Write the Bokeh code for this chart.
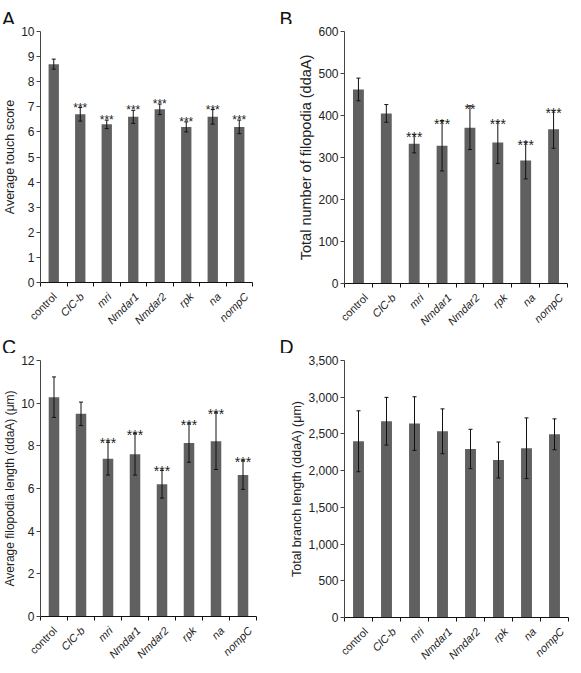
from bokeh.plotting import figure
from bokeh.models import Range1d, FixedTicker, NumeralTickFormatter, ColumnDataSource, Plot
from bokeh.layouts import column, row
from bokeh.embed import file_html
from bokeh.resources import INLINE
from bokeh.core.properties import value, field

# ---------------- data ----------------
categories = ["control", "ClC-b", "mri", "Nmdar1", "Nmdar2", "rpk", "na", "nompC"]

touch_mean = [8.7, 6.7, 6.3, 6.6, 6.9, 6.2, 6.6, 6.2]
touch_err = [0.2, 0.27, 0.17, 0.26, 0.21, 0.2, 0.29, 0.27]
touch_sig = ["", "***", "***", "***", "***", "***", "***", "***"]
touch_ticks = [0, 1, 2, 3, 4, 5, 6, 7, 8, 9, 10]

filo_mean = [462, 405, 333, 328, 371, 336, 293, 367]
filo_err = [27, 21, 22, 60, 52, 50, 44, 45]
filo_sig = ["", "", "***", "***", "**", "***", "***", "***"]
filo_ticks = [0, 100, 200, 300, 400, 500, 600]

len_mean = [10.28, 9.5, 7.4, 7.6, 6.2, 8.13, 8.22, 6.63]
len_err = [0.95, 0.55, 0.77, 0.97, 0.65, 0.9, 1.33, 0.67]
len_sig = ["", "", "***", "***", "***", "***", "***", "***"]
len_ticks = [0, 2, 4, 6, 8, 10, 12]

branch_mean = [2400, 2673, 2641, 2536, 2295, 2145, 2305, 2495]
branch_err = [415, 325, 365, 305, 268, 245, 413, 210]
branch_sig = ["", "", "", "", "", "", "", ""]
branch_ticks = [0, 500, 1000, 1500, 2000, 2500, 3000, 3500]

panel_letters = ["A", "B", "C", "D"]

FONT = "Liberation Sans"
BAR = "#606060"
INK = "#111111"
TXT = "#222222"
MB_TOP, MB_BOTTOM = 7, 7

HAS_FRAME_ALIGN = "frame_align" in Plot.properties()


def base_fig(**kw):
    if HAS_FRAME_ALIGN:
        kw["frame_align"] = False
    return figure(output_backend="svg", toolbar_location=None, **kw)


def blank(width, height, x_range, y_range):
    f = base_fig(width=width, height=height, x_range=x_range, y_range=y_range,
                 x_axis_location=None, y_axis_location=None, min_border=0)
    f.outline_line_color = None
    f.grid.visible = False
    return f


def header(letter, width, height, letter_x, baseline_from_top):
    h = blank(width, height, Range1d(0, width), Range1d(-height, 0))
    h.text(x=[letter_x], y=[-baseline_from_top], text=[letter], text_font=value(FONT),
           text_font_size="19.5px", text_color=INK, text_align="left",
           text_baseline="alphabetic")
    return h


def panel(means, errs, sig, ticks, ylabel, *, width, frame_h, mb_left, mb_right,
          label_size, star_size, star_drop, fmt=None):
    n = len(categories)
    top = ticks[-1]
    ppu = frame_h / top
    xs = [i + 0.5 for i in range(n)]
    src = ColumnDataSource(dict(
        x=xs, top=means,
        lo=[m - e for m, e in zip(means, errs)],
        hi=[m + e for m, e in zip(means, errs)],
        star_y=[m + e - star_drop / ppu for m, e in zip(means, errs)],
        sig=sig,
    ))
    p = base_fig(width=width, height=frame_h + MB_TOP + MB_BOTTOM,
                 x_range=Range1d(0, n), y_range=Range1d(ticks[0], top),
                 min_border_left=mb_left, min_border_right=mb_right,
                 min_border_top=MB_TOP, min_border_bottom=MB_BOTTOM)
    p.outline_line_color = None
    p.xgrid.visible = False
    p.ygrid.visible = False

    p.vbar(x="x", top="top", bottom=0, width=0.39, source=src, fill_color=BAR, line_color=None)
    p.segment(x0="x", y0="lo", x1="x", y1="hi", source=src, line_color=INK, line_width=1)
    p.scatter(x="x", y="hi", source=src, marker="dash", size=4, line_color=INK, line_width=1)
    p.scatter(x="x", y="lo", source=src, marker="dash", size=4, line_color=INK, line_width=1)
    p.text(x="x", y="star_y", text="sig", source=src, text_align="center",
           text_baseline="alphabetic", text_font=value(FONT),
           text_font_size=star_size, text_color=TXT)

    ya = p.yaxis[0]
    ya.ticker = FixedTicker(ticks=ticks)
    if fmt:
        ya.formatter = NumeralTickFormatter(format=fmt)
    ya.minor_tick_line_color = None
    ya.major_tick_in = 0
    ya.major_tick_out = 4
    ya.major_label_standoff = 2
    ya.axis_line_color = "#444444"
    ya.major_tick_line_color = "#444444"
    ya.major_label_text_font = FONT
    ya.major_label_text_font_size = "12px"
    ya.major_label_text_color = TXT
    ya.axis_label = ylabel
    ya.axis_label_text_font = FONT
    ya.axis_label_text_font_size = label_size
    ya.axis_label_text_font_style = "normal"
    ya.axis_label_text_color = TXT
    ya.axis_label_standoff = 1

    xa = p.xaxis[0]
    xa.ticker = FixedTicker(ticks=list(range(n + 1)))
    xa.minor_tick_line_color = None
    xa.major_tick_in = 0
    xa.major_tick_out = 4
    xa.axis_line_color = INK
    xa.major_tick_line_color = INK
    xa.major_label_text_font_size = "1px"
    xa.major_label_text_color = None
    xa.major_label_standoff = 0
    return p


def footer(width, height, mb_left, mb_right):
    # same category scale as the panel above, widened to the full figure width
    n = len(categories)
    ppx = (width - mb_left - mb_right) / n
    f = blank(width, height, Range1d(-mb_left / ppx, (width - mb_left) / ppx), Range1d(-height, 0))
    src = ColumnDataSource(dict(
        x=[i + 0.5 for i in range(n)], y=[-5] * n, text=categories,
        style=["normal" if c == "control" else "italic" for c in categories],
    ))
    f.text(x="x", y="y", text="text", source=src, angle=45, angle_units="deg",
           text_align="right", text_baseline="middle", x_offset=7.5,
           text_font=value(FONT), text_font_size="11px",
           text_font_style=field("style"), text_color=TXT)
    return f


A = dict(width=277, mb_left=33, mb_right=25)
B = dict(width=293, mb_left=67, mb_right=3)
C = dict(width=277, mb_left=33, mb_right=21)
D = dict(width=293, mb_left=67, mb_right=2)

pa = panel(touch_mean, touch_err, touch_sig, touch_ticks, "Average touch score",
           frame_h=251, label_size="12.5px", star_size="12px", star_drop=0, **A)
pb = panel(filo_mean, filo_err, filo_sig, filo_ticks, "Total number of filopodia (ddaA)",
           frame_h=252, label_size="14.5px", star_size="14px", star_drop=3, **B)
pc = panel(len_mean, len_err, len_sig, len_ticks, "Average filopodia length (ddaA) (\u03bcm)",
           frame_h=256, label_size="12px", star_size="14px", star_drop=1, **C)
pd_ = panel(branch_mean, branch_err, branch_sig, branch_ticks, "Total branch length (ddaA) (\u03bcm)",
            frame_h=257, label_size="12.5px", star_size="14px", star_drop=0, fmt="0,0", **D)

# row 1: 24 + 265/266 + 38/37 = 327 ; row 2: 26 + 270/271 + 40/39 = 336
col_a = column(header(panel_letters[0], A["width"], 24, 1.5, 18.75), pa,
               footer(A["width"], 38, A["mb_left"], A["mb_right"]))
col_b = column(header(panel_letters[1], B["width"], 24, 2, 18.75), pb,
               footer(B["width"], 37, B["mb_left"], B["mb_right"]))
col_c = column(header(panel_letters[2], C["width"], 26, 1.5, 19.75), pc,
               footer(C["width"], 40, C["mb_left"], C["mb_right"]))
col_d = column(header(panel_letters[3], D["width"], 26, 2, 19.75), pd_,
               footer(D["width"], 39, D["mb_left"], D["mb_right"]))

layout = column(row(col_a, col_b), row(col_c, col_d))
open("out.html", "w").write(file_html(layout, INLINE))
